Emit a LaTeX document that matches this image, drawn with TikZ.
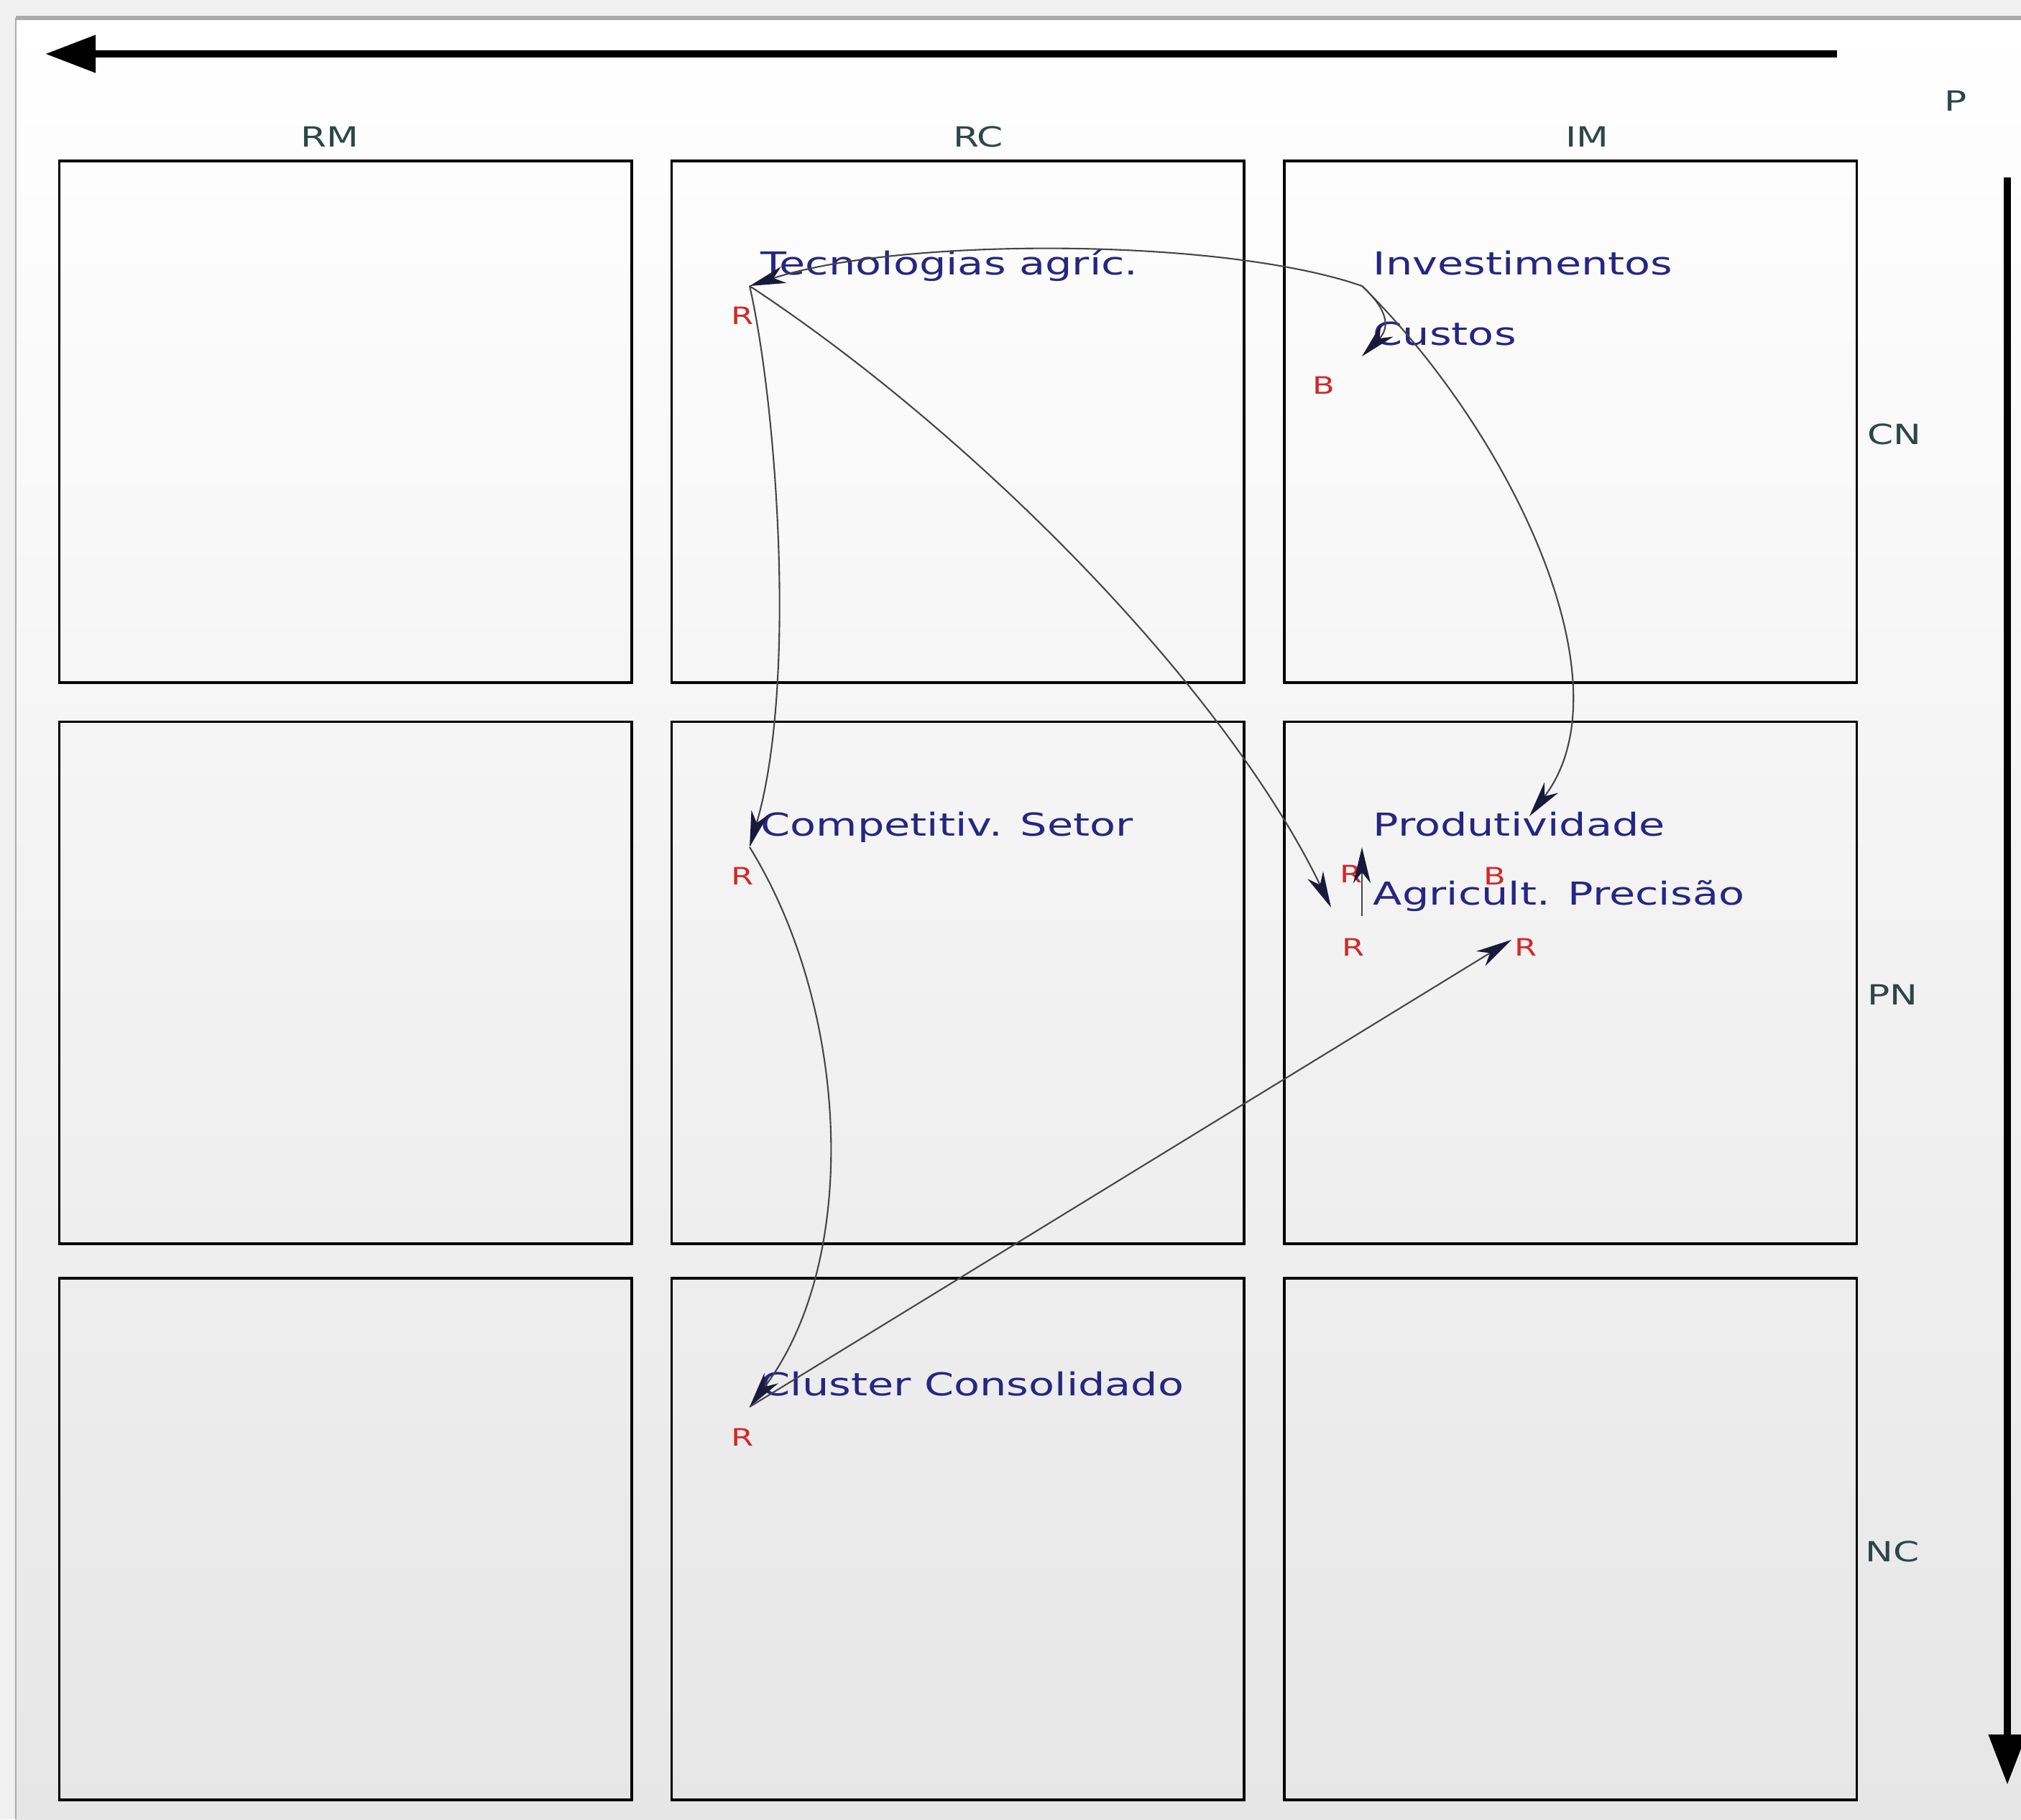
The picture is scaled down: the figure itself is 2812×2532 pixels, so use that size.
\documentclass[tikz,border=0pt]{standalone}
\usepackage{fontspec}
\usetikzlibrary{arrows.meta,calc}
\newfontfamily\nfont[FakeStretch=1.34]{DejaVu Sans}
\definecolor{varblue}{RGB}{38,38,130}
\definecolor{axgray}{RGB}{45,70,70}
\definecolor{polred}{RGB}{210,40,40}
\definecolor{linkgray}{RGB}{70,70,70}
\definecolor{tipdark}{RGB}{25,25,60}
\definecolor{framegray}{RGB}{170,170,170}
\definecolor{outbg}{RGB}{240,240,240}
\definecolor{botbg}{RGB}{230,230,230}
\begin{document}
\begin{tikzpicture}[x=0.01cm,y=-0.01cm,
 cell/.style={draw=black,line width=1pt,minimum width=7.96cm,minimum height=7.26cm,inner sep=0pt,outer sep=0pt},
 var/.style={font=\nfont\fontsize{12.5}{15}\selectfont,text=varblue,anchor=base west,inner sep=0pt},
 axlab/.style={font=\nfont\fontsize{11}{13}\selectfont,text=axgray,inner sep=0pt},
 pol/.style={font=\nfont\fontsize{9.5}{11}\selectfont,text=polred,inner sep=0pt},
 link/.style={draw=linkgray,line width=0.6pt,-{Stealth[length=0.5cm,width=0.24cm,inset=0.15cm,color=tipdark]}},
 bigarrow/.style={line width=3pt,-{Triangle[length=0.7cm,width=0.5cm]}}
]
\useasboundingbox (0,0) rectangle (2812,2532);
\fill[outbg] (0,0) rectangle (2812,2532);
\shade[top color=white,bottom color=botbg] (22,25) rectangle (2812,2532);
\draw[framegray,line width=1.5pt] (22,25) -- (2812,25);
\draw[framegray,line width=0.6pt] (22,25) -- (22,2532);

% grid cells
\node[cell] (c11) at (480.5,587) {};
\node[cell] (c12) at (1332.5,587) {};
\node[cell] (c13) at (2185,587) {};
\node[cell] (c21) at (480.5,1367.5) {};
\node[cell] (c22) at (1332.5,1367.5) {};
\node[cell] (c23) at (2185,1367.5) {};
\node[cell] (c31) at (480.5,2142) {};
\node[cell] (c32) at (1332.5,2142) {};
\node[cell] (c33) at (2185,2142) {};

% axis labels
\node[axlab] (lRM) at (459,190) {RM};
\node[axlab] (lRC) at (1361,190) {RC};
\node[axlab] (lIM) at (2208,190) {IM};
\node[axlab] (lP) at (2721,140) {P};
\node[axlab] (lCN) at (2636,604) {CN};
\node[axlab] (lPN) at (2633,1384) {PN};
\node[axlab] (lNC) at (2633,2159) {NC};

% big arrows
\coordinate (hs) at (2556,75);
\coordinate (he) at (63,75);
\draw[bigarrow] (hs) -- (he);
\coordinate (vs) at (2793,247);
\coordinate (ve) at (2793,2484);
\draw[bigarrow] (vs) -- (ve);

% variables
\node[var] (tec) at (1058,382) {Tecnologias agríc.};
\node[var] (inv) at (1910,382) {Investimentos};
\node[var] (cus) at (1910,480) {Custos};
\node[var] (com) at (1058,1163) {Competitiv. Setor};
\node[var] (pro) at (1910,1163) {Produtividade};
\node[var] (agr) at (1910,1259) {Agricult. Precisão};
\node[var] (clu) at (1058,1942) {Cluster Consolidado};

% polarity labels
\node[pol] (p1) at (1033,439) {R};
\node[pol] (p2) at (1842,536) {B};
\node[pol] (p3) at (1033,1219) {R};
\node[pol] (p4) at (1880,1216) {R};
\node[pol] (p5) at (2080,1219) {B};
\node[pol] (p6) at (1883,1318) {R};
\node[pol] (p7) at (2123,1318) {R};
\node[pol] (p8) at (1033,2000) {R};

% anchor points
\coordinate (tecA) at ([shift={(-15,16)}]tec.base west);
\coordinate (invA) at ([shift={(-15,16)}]inv.base west);
\coordinate (cusA) at ([shift={(-15,16)}]cus.base west);
\coordinate (comA) at ([shift={(-15,16)}]com.base west);
\coordinate (proA) at ([shift={(-15,16)}]pro.base west);
\coordinate (agrA) at ([shift={(-15,16)}]agr.base west);
\coordinate (cluA) at ([shift={(-15,16)}]clu.base west);
\coordinate (proIn) at ([shift={(218,-27)}]pro.base west);
\coordinate (agrIn) at ([shift={(-58,4)}]agr.base west);
\coordinate (agrIn2) at ([shift={(193,49)}]agr.base west);

% links
\draw[link] (invA) .. controls (1700,330) and (1250,330) .. (tecA);
\draw[link] (invA) .. controls (1930,430) and (1935,455) .. (cusA);
\draw[link] (invA) .. controls (2100,600) and (2270,950) .. (proIn);
\draw[link] (tecA) .. controls (1080,560) and (1110,950) .. (comA);
\draw[link] (tecA) .. controls (1350,600) and (1700,950) .. (agrIn);
\draw[link] (comA) .. controls (1180,1400) and (1200,1750) .. (cluA);
\draw[link] (cluA) -- (agrIn2);
\draw[link] (agrA) -- (proA);
\end{tikzpicture}
\end{document}
